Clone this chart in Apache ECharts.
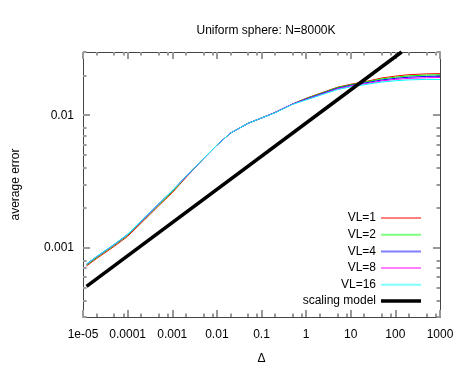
<!DOCTYPE html>
<html>
<head>
<meta charset="utf-8">
<title>Uniform sphere</title>
<script type="text/javascript" src="https://cdn.jsdelivr.net/npm/echarts@6/dist/echarts.min.js"></script>
<style type="text/css">
html, body {margin: 0; padding: 0; background: #fff;}
#main {width: 463px; height: 371px;}
</style>
</head>
<body>
<div id="main"></div>
<script type="text/javascript">
// Δ values (x)
var delta = [1.2e-5, 2e-5, 5e-5, 1e-4, 2e-4, 5e-4, 1e-3, 2e-3, 5e-3, 1e-2, 2e-2, 5e-2,
    0.1, 0.2, 0.5, 1, 2, 5, 10, 20, 50, 100, 200, 500, 1000];

// average error per vector length
var vl1 = [0.000728, 0.000826, 0.001023, 0.001218, 0.001531, 0.002074, 0.00260, 0.003371, 0.004699, 0.005943, 0.007311, 0.00869,
    0.009528, 0.01047, 0.01216, 0.01343, 0.01458, 0.01626, 0.01714, 0.01786, 0.0191, 0.01973, 0.02023, 0.02051, 0.02061];
var vl2 = [0.00074, 0.000839, 0.00104, 0.001238, 0.001556, 0.002108, 0.002642, 0.003402, 0.004699, 0.005943, 0.007311, 0.00869,
    0.009528, 0.01047, 0.01216, 0.01336, 0.01448, 0.01615, 0.01699, 0.0177, 0.0188, 0.01937, 0.01981, 0.0201, 0.02018];
var vl4 = [0.000751, 0.000853, 0.001056, 0.001258, 0.001581, 0.002142, 0.002685, 0.003429, 0.004699, 0.005943, 0.007311, 0.00869,
    0.009528, 0.01047, 0.01216, 0.01324, 0.01435, 0.01596, 0.01679, 0.01746, 0.01845, 0.01897, 0.01936, 0.01963, 0.01973];
var vl8 = [0.00075, 0.000851, 0.001054, 0.001256, 0.001578, 0.002138, 0.00268, 0.003426, 0.004699, 0.005943, 0.007311, 0.00869,
    0.009528, 0.01047, 0.01216, 0.01315, 0.01422, 0.01578, 0.01661, 0.01722, 0.01815, 0.01863, 0.01895, 0.01918, 0.01928];
var vl16 = [0.000755, 0.000857, 0.001062, 0.001264, 0.001589, 0.002153, 0.002698, 0.003436, 0.004699, 0.005943, 0.007311, 0.00869,
    0.009528, 0.01042, 0.01208, 0.01303, 0.01409, 0.01559, 0.01637, 0.01699, 0.01782, 0.01819, 0.01849, 0.01863, 0.01861];

// scaling model, two end points
var modelX = [1.2e-5, 138];
var modelY = [0.00051, 0.03];

// ticks
var xMajor = [1e-5, 1e-4, 1e-3, 1e-2, 0.1, 1, 10, 100, 1000];
var xLabels = ['1e-05', '0.0001', '0.001', '0.01', '0.1', '1', '10', '100', '1000'];
var xMinorDigits = [2, 5, 8];
var yMajor = [0.001, 0.01];
var yLabels = ['0.001', '0.01'];
var yMinorDigits = [2, 3, 4, 5, 6, 7, 8];

var names = ['VL=1', 'VL=2', 'VL=4', 'VL=8', 'VL=16', 'scaling model'];
var colors = ['#ff0000', '#00ff00', '#0000ff', '#ff00ff', '#00ffff', '#000000'];
var curves = [vl1, vl2, vl4, vl8, vl16];

function pairs(xs, ys) {
    return xs.map(function (x, i) { return [x, ys[i]]; });
}
function minors(majors, digits) {
    var out = [];
    majors.forEach(function (m) {
        digits.forEach(function (d) { out.push(+(m * d).toPrecision(6)); });
    });
    return out;
}

var xMinor = minors([1e-5, 1e-4, 1e-3, 1e-2, 0.1, 1, 10, 100], xMinorDigits);
var yMinor = minors([1e-4, 1e-3, 1e-2], yMinorDigits);

var myChart = echarts.init(document.getElementById('main'));

var font = {color: '#000', fontSize: 12, fontFamily: 'Liberation Sans'};
var tickColor = '#999';

// one axis = one set of ticks; major and minor sets are stacked on the same side
function logAxis(pos, min, max, ticks, len, line, labels) {
    var ax = {
        type: 'log',
        logBase: 10,
        position: pos,
        min: min,
        max: max,
        axisLine: {show: line, onZero: false, lineStyle: {color: '#444', width: 1}},
        axisTick: {show: true, inside: true, length: len, customValues: ticks, lineStyle: {color: tickColor, width: 2}},
        minorTick: {show: false},
        splitLine: {show: false},
        axisLabel: {show: !!labels, color: '#000', fontSize: 12, fontFamily: 'Liberation Sans', customValues: ticks}
    };
    if (labels) {
        ax.axisLabel.formatter = function (v) {
            for (var i = 0; i < ticks.length; i++) {
                if (Math.abs(v / ticks[i] - 1) < 1e-6) return labels[i];
            }
            return '';
        };
    }
    return ax;
}

var xBottom = logAxis('bottom', 1e-5, 1000, xMajor, 7, true, xLabels);
xBottom.axisLabel.margin = 12;
xBottom.name = 'Δ';
xBottom.nameLocation = 'middle';
xBottom.nameGap = 36;
xBottom.nameTextStyle = font;

var yLeft = logAxis('left', 0.0003, 0.03, yMajor, 7, true, yLabels);
yLeft.axisLabel.margin = 9;
yLeft.name = 'average error';
yLeft.nameLocation = 'middle';
yLeft.nameRotate = 90;
yLeft.nameGap = 61;
yLeft.nameTextStyle = font;

var series = curves.map(function (c, i) {
    return {
        name: names[i],
        type: 'line',
        data: pairs(delta, c),
        symbol: 'none',
        lineStyle: {color: colors[i], width: 1},
        itemStyle: {color: colors[i]},
        z: 3
    };
});
series.push({
    name: names[5],
    type: 'line',
    data: pairs(modelX, modelY),
    symbol: 'none',
    lineStyle: {color: '#000', width: 3.5},
    itemStyle: {color: '#000'},
    z: 4
});

var legendText = {color: '#000', fontSize: 12, fontFamily: 'Liberation Sans', width: 90, align: 'right', lineHeight: 14};

var option = {
    animation: false,
    backgroundColor: '#fff',
    title: {
        text: 'Uniform sphere: N=8000K',
        left: 261,
        textAlign: 'center',
        top: 20,
        textStyle: {color: '#000', fontSize: 12, fontWeight: 'normal', fontFamily: 'Liberation Sans'}
    },
    grid: {left: 83, right: 23, top: 52, bottom: 54},
    legend: [{
        orient: 'vertical',
        right: 37,
        top: 206,
        align: 'right',
        icon: 'rect',
        itemWidth: 40,
        itemHeight: 2,
        itemGap: 2.7,
        itemStyle: {opacity: 0.5},
        data: names.slice(0, 5),
        textStyle: legendText
    }, {
        orient: 'vertical',
        right: 37,
        top: 289,
        align: 'right',
        icon: 'rect',
        itemWidth: 40,
        itemHeight: 3.5,
        data: names.slice(5),
        textStyle: legendText
    }],
    xAxis: [
        xBottom,
        logAxis('top', 1e-5, 1000, xMajor, 7, true),
        logAxis('bottom', 1e-5, 1000, xMinor, 3.5, false),
        logAxis('top', 1e-5, 1000, xMinor, 3.5, false)
    ],
    yAxis: [
        yLeft,
        logAxis('right', 0.0003, 0.03, yMajor, 7, true),
        logAxis('left', 0.0003, 0.03, yMinor, 3.5, false),
        logAxis('right', 0.0003, 0.03, yMinor, 3.5, false)
    ],
    series: series
};

myChart.setOption(option);
</script>
</body>
</html>
